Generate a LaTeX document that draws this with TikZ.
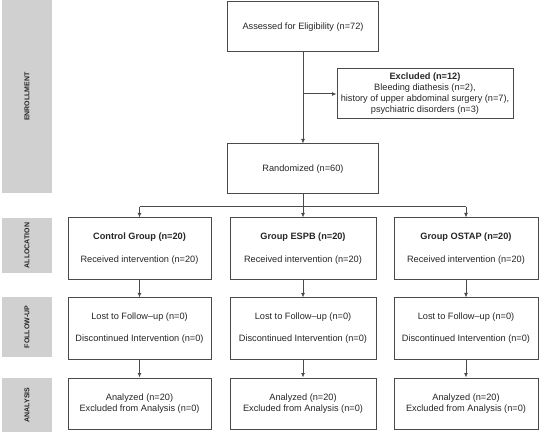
\documentclass[tikz,border=0pt]{standalone}
\usepackage{fontspec}
\setmainfont{Liberation Sans}
\usetikzlibrary{arrows.meta}
\definecolor{linec}{HTML}{4A4A4A}
\definecolor{barc}{HTML}{D0D0D0}
\begin{document}
\begin{tikzpicture}[x=1pt,y=-1pt,
  box/.style={draw=linec,line width=1pt,fill=white,align=center,inner sep=2pt,
    font=\fontsize{9.2}{11}\selectfont,text=black!85},
  bar/.style={fill=barc,draw=none},
  barlabel/.style={rotate=90,font=\bfseries\fontsize{7}{8}\selectfont,text=black!85},
  arr/.style={draw=linec,line width=1pt,-{Latex[length=4.5pt,width=4pt]}},
  ln/.style={draw=linec,line width=1pt}]
\useasboundingbox (0,0) rectangle (539,441);
% side bars
\fill[bar] (2,0) rectangle (52,193);
\node[barlabel] (lenr) at (27,96.5) {ENROLLMENT};
\fill[bar] (2,218) rectangle (52,273);
\node[barlabel] (lall) at (27,245.5) {ALLOCATION};
\fill[bar] (2,297) rectangle (52,357);
\node[barlabel] (lfol) at (27,327) {FOLLOW-UP};
\fill[bar] (2,378) rectangle (52,432);
\node[barlabel] (lana) at (27,405) {ANALYSIS};
% enrollment
\node[box,minimum width=151,minimum height=50] (assess) at (303,27) {Assessed for Eligibility (n=72)};
\node[box,minimum width=176,minimum height=50] (excl) at (425,94)
  {\textbf{Excluded (n=12)}\\Bleeding diathesis (n=2),\\history of upper abdominal surgery (n=7),\\psychiatric disorders (n=3)};
\node[box,minimum width=151,minimum height=50] (rand) at (303,169) {Randomized (n=60)};
\coordinate (ebr) at (303,94);
\draw[arr] (assess.south) -- (rand.north);
\draw[arr] (ebr) -- (excl.west);
% allocation
\node[box,minimum width=143,minimum height=62] (ctrl) at (139.5,249) {\textbf{Control Group (n=20)}\\[12pt]Received intervention (n=20)};
\node[box,minimum width=146,minimum height=62] (espb) at (303,249) {\textbf{Group ESPB (n=20)}\\[12pt]Received intervention (n=20)};
\node[box,minimum width=144,minimum height=62] (ostap) at (466,249) {\textbf{Group OSTAP (n=20)}\\[12pt]Received intervention (n=20)};
\coordinate (sp) at (303,207);
\coordinate (spl) at (139.5,207);
\coordinate (spr) at (466,207);
\draw[ln] (rand.south) -- (sp);
\draw[ln] (spl) -- (spr);
\draw[arr] (spl) -- (ctrl.north);
\draw[arr] (sp) -- (espb.north);
\draw[arr] (spr) -- (ostap.north);
% follow-up
\node[box,minimum width=143,minimum height=61] (fctrl) at (139.5,328.5) {Lost to Follow--up (n=0)\\[11pt]Discontinued Intervention (n=0)};
\node[box,minimum width=146,minimum height=61] (fespb) at (303,328.5) {Lost to Follow--up (n=0)\\[11pt]Discontinued Intervention (n=0)};
\node[box,minimum width=144,minimum height=61] (fostap) at (466,328.5) {Lost to Follow--up (n=0)\\[11pt]Discontinued Intervention (n=0)};
\draw[arr] (ctrl.south) -- (fctrl.north);
\draw[arr] (espb.south) -- (fespb.north);
\draw[arr] (ostap.south) -- (fostap.north);
% analysis
\node[box,minimum width=143,minimum height=51] (actrl) at (139.5,403.5) {Analyzed (n=20)\\Excluded from Analysis (n=0)};
\node[box,minimum width=146,minimum height=51] (aespb) at (303,403.5) {Analyzed (n=20)\\Excluded from Analysis (n=0)};
\node[box,minimum width=144,minimum height=51] (aostap) at (466,403.5) {Analyzed (n=20)\\Excluded from Analysis (n=0)};
\draw[arr] (fctrl.south) -- (actrl.north);
\draw[arr] (fespb.south) -- (aespb.north);
\draw[arr] (fostap.south) -- (aostap.north);
\end{tikzpicture}
\end{document}
